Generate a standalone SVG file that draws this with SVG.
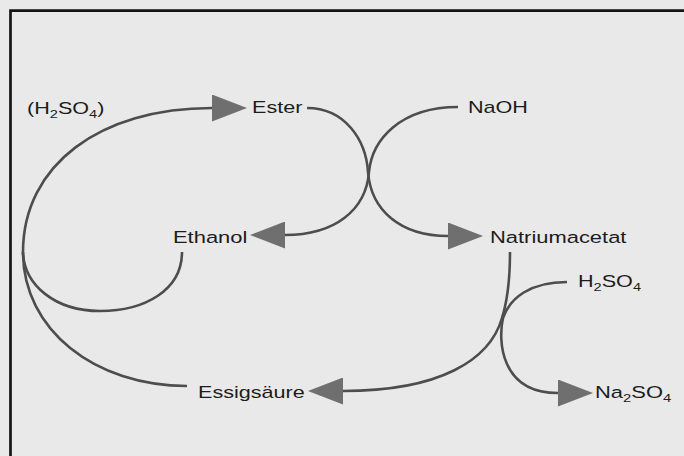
<svg xmlns="http://www.w3.org/2000/svg" width="684" height="456" viewBox="0 0 684 456">
  <defs>
    <style>
      .bg { fill: #e9e9e9; }
      .frame { stroke: #141414; stroke-width: 2.7; fill: none; }
      .link { fill: none; stroke: #4d4d4d; stroke-width: 2.6; stroke-linecap: butt; }
      .label { font-family: "Liberation Sans", Arial, Helvetica, sans-serif; font-size: 17px; fill: #1c1c1c; }
      .sub { font-size: 11.5px; }
    </style>
    <marker id="head" viewBox="0 0 35 27" refX="0" refY="13.5" markerWidth="35" markerHeight="27" markerUnits="userSpaceOnUse" orient="auto">
      <path d="M0,0 L35,13.5 L0,27 Z" fill="#6f6f6f"/>
    </marker>
  </defs>

  <rect class="bg" x="0" y="0" width="684" height="456"/>

  <!-- frame: top and left edges only -->
  <path class="frame" d="M684,10.7 H10.5 V456"/>

  <g id="connectors">
    <!-- Essigsäure back up to Ester (acid-catalysed esterification) -->
    <path class="link" marker-end="url(#head)" d="M187,386 C95,386 23,330 23,252 C23,165 100,108 212,108"/>
    <!-- Ethanol joins the esterification arc -->
    <path class="link" d="M182,252 C182,290 145,311 100,311 C55,311 24,285 23,252"/>
    <!-- Ester + NaOH crossing into the saponification products -->
    <path class="link" marker-end="url(#head)" d="M307,108 C345,108 366,140 368,172 C371,210 400,236 448,236"/>
    <path class="link" marker-end="url(#head)" d="M458,107 C400,107 372,140 369,172 C366,210 335,235 285,235"/>
    <!-- Natriumacetat + H2SO4 -->
    <path class="link" marker-end="url(#head)" d="M510,252 C510,285 507,302 502,318 C490,360 440,391 343,391"/>
    <path class="link" marker-end="url(#head)" d="M567,282 C530,282 510,298 503,318 C498,340 500,393 558,393"/>
  </g>

  <g id="catalyst">
    <text class="label" transform="translate(27,114) scale(1.27,1)">(H<tspan class="sub" dy="4">2</tspan><tspan dy="-4">SO</tspan><tspan class="sub" dy="4">4</tspan><tspan dy="-4">)</tspan></text>
  </g>
  <g id="ester">
    <text class="label" transform="translate(252,113) scale(1.27,1)">Ester</text>
  </g>
  <g id="naoh">
    <text class="label" transform="translate(468,113) scale(1.27,1)">NaOH</text>
  </g>
  <g id="ethanol">
    <text class="label" transform="translate(173,243) scale(1.29,1)">Ethanol</text>
  </g>
  <g id="natriumacetat">
    <text class="label" transform="translate(490,243) scale(1.29,1)">Natriumacetat</text>
  </g>
  <g id="h2so4">
    <text class="label" transform="translate(578,287) scale(1.27,1)">H<tspan class="sub" dy="4">2</tspan><tspan dy="-4">SO</tspan><tspan class="sub" dy="4">4</tspan></text>
  </g>
  <g id="essigsaeure">
    <text class="label" transform="translate(198,398) scale(1.27,1)">Essigsäure</text>
  </g>
  <g id="na2so4">
    <text class="label" transform="translate(595,398) scale(1.29,1)">Na<tspan class="sub" dy="4">2</tspan><tspan dy="-4">SO</tspan><tspan class="sub" dy="4">4</tspan></text>
  </g>
</svg>
